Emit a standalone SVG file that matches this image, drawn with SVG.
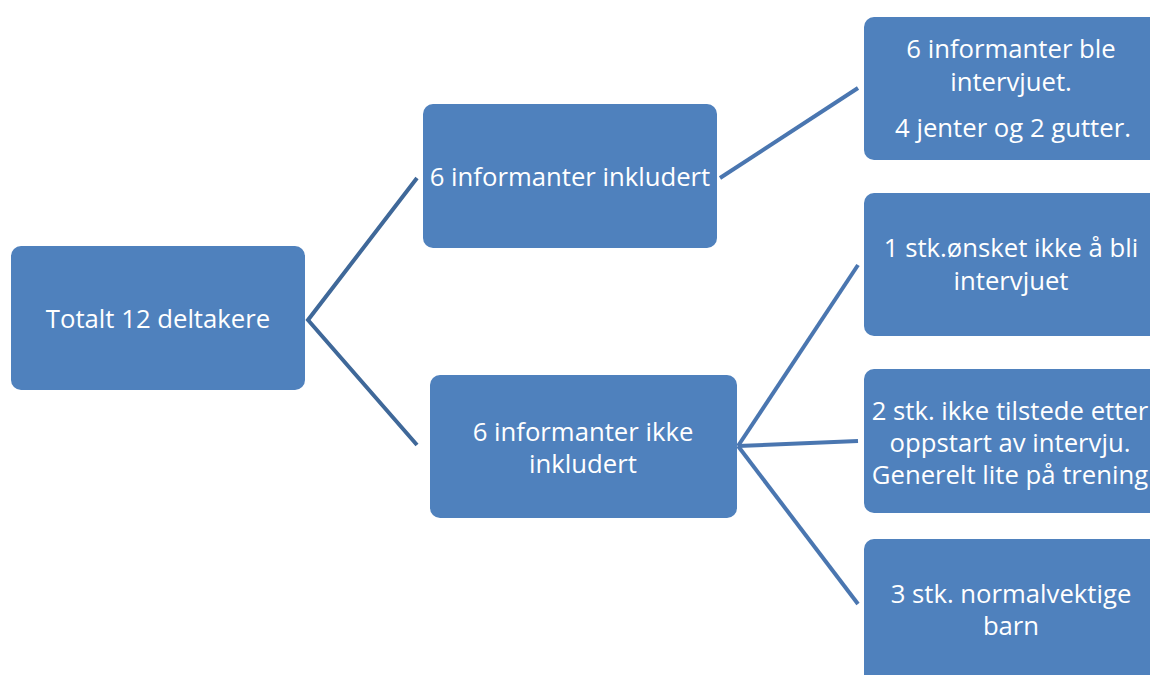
<svg xmlns="http://www.w3.org/2000/svg" width="1150" height="675" viewBox="0 0 1150 675">
<style>
.box{fill:#4f81bd;}
.t{font-family:"Open Sans","Liberation Sans",sans-serif;font-size:25.7px;fill:#ffffff;text-anchor:middle;}
.c1{stroke:#3f6899;stroke-width:4;fill:none;}
.c2{stroke:#4a76b0;stroke-width:4;fill:none;}
</style>
<rect width="1150" height="675" fill="#ffffff"/>
<g id="connectors">
<polyline class="c1" points="417,178 308,320 417,445"/>
<line class="c2" x1="720" y1="178" x2="858" y2="88"/>
<line class="c2" x1="858" y1="265" x2="738" y2="446"/>
<line class="c2" x1="738" y1="446" x2="858" y2="441"/>
<line class="c2" x1="738" y1="446" x2="858" y2="604"/>
</g>
<g id="root">
<rect class="box" x="11" y="246" width="294" height="144" rx="10"/>
<text class="t" x="158" y="328">Totalt 12 deltakere</text>
</g>
<g id="included">
<rect class="box" x="423" y="104" width="294" height="144" rx="10"/>
<text class="t" x="570" y="186">6 informanter inkludert</text>
</g>
<g id="not-included">
<rect class="box" x="430" y="375" width="307" height="143" rx="10"/>
<text class="t" x="583" y="441">6 informanter ikke</text>
<text class="t" x="583" y="473">inkludert</text>
</g>
<g id="interviewed">
<rect class="box" x="864" y="17" width="300" height="143" rx="10"/>
<text class="t" x="1011" y="58">6 informanter ble</text>
<text class="t" x="1011" y="91">intervjuet.</text>
<text class="t" x="1013" y="137">4 jenter og 2 gutter.</text>
</g>
<g id="declined">
<rect class="box" x="864" y="193" width="300" height="143" rx="10"/>
<text class="t" x="1011" y="257">1 stk.ønsket ikke å bli</text>
<text class="t" x="1011" y="290">intervjuet</text>
</g>
<g id="absent">
<rect class="box" x="864" y="369" width="300" height="144" rx="10"/>
<text class="t" x="1010" y="420">2 stk. ikke tilstede etter</text>
<text class="t" x="1010" y="452">oppstart av intervju.</text>
<text class="t" x="1010" y="484">Generelt lite på trening</text>
</g>
<g id="normal-weight">
<rect class="box" x="864" y="539" width="300" height="150" rx="10"/>
<text class="t" x="1011" y="603">3 stk. normalvektige</text>
<text class="t" x="1011" y="635">barn</text>
</g>
</svg>
